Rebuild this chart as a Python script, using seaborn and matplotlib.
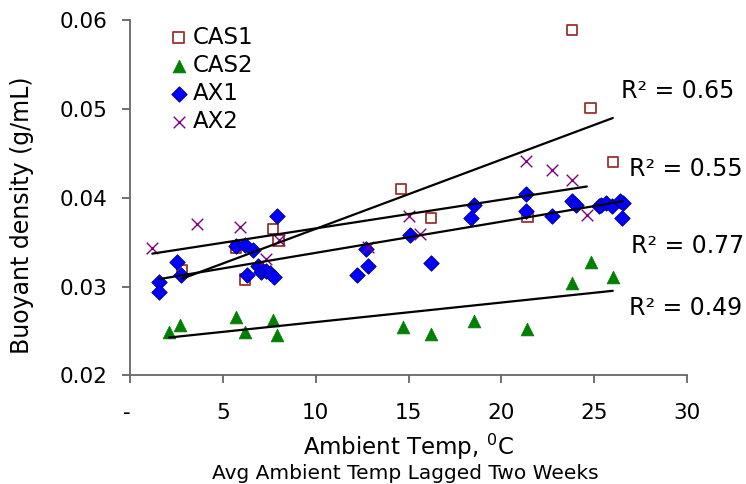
import matplotlib
matplotlib.use("Agg")
import matplotlib.pyplot as plt
import numpy as np
import pandas as pd
import seaborn as sns

# values: ambient temp (C) vs buoyant density (g/mL)
cas1_temp = [2.8, 5.7, 6.2, 7.7, 8.0, 14.6, 16.2, 21.4, 23.8, 24.8, 26.0]
cas1_dens = [0.0319, 0.0344, 0.0308, 0.0365, 0.0352, 0.0410, 0.0377, 0.0378,
             0.0589, 0.0501, 0.0440]

cas2_temp = [2.1, 2.7, 5.7, 6.2, 7.7, 7.9, 14.7, 16.2, 18.5, 21.4, 23.8, 24.8, 26.0]
cas2_dens = [0.0249, 0.0257, 0.0266, 0.0249, 0.0262, 0.0245, 0.0255, 0.0247,
             0.0261, 0.0252, 0.0304, 0.0328, 0.0311]

ax1_temp = [1.56, 1.56, 2.51, 2.73, 5.71, 6.19, 6.6, 6.28, 6.91, 7.03, 7.32,
            7.53, 7.75, 7.9, 12.2, 12.79, 12.7, 15.07, 16.2, 18.51, 18.39,
            21.35, 21.31, 22.7, 23.8, 24.04, 25.24, 25.39, 25.65, 25.96,
            26.37, 26.55, 26.52]
ax1_dens = [0.0305, 0.0294, 0.0328, 0.0313, 0.0346, 0.0347, 0.0341, 0.0313,
            0.0323, 0.0316, 0.0318, 0.0315, 0.0311, 0.0380, 0.0313, 0.0323,
            0.0342, 0.0358, 0.0327, 0.0392, 0.0377, 0.0404, 0.0385, 0.0380,
            0.0396, 0.0392, 0.0391, 0.0392, 0.0394, 0.0391, 0.0396, 0.0394,
            0.0377]

ax2_temp = [1.2, 3.6, 5.9, 7.3, 8.0, 12.8, 15.0, 15.6, 21.3, 22.7, 23.8, 24.6]
ax2_dens = [0.0344, 0.0370, 0.0367, 0.0331, 0.0352, 0.0345, 0.0380, 0.0359,
            0.0441, 0.0431, 0.0420, 0.0381]

r2_labels = ["R\u00b2 = 0.65", "R\u00b2 = 0.55", "R\u00b2 = 0.77", "R\u00b2 = 0.49"]

x_ticks = [0, 5, 10, 15, 20, 25, 30]
x_ticklabels = ["- ", "5", "10", "15", "20", "25", "30"]
y_ticks = [0.02, 0.03, 0.04, 0.05, 0.06]

sns.set_style("ticks")
plt.rcParams["font.family"] = ["DejaVu Sans"]
plt.rcParams["text.color"] = "black"
plt.rcParams["axes.labelcolor"] = "black"

fig = plt.figure(figsize=(7.46, 4.84), dpi=100)
ax = fig.add_axes([0.1743, 0.2242, 0.9210 - 0.1743, 0.9587 - 0.2242])

series = [
    ("CAS1", cas1_temp, cas1_dens, dict(marker="s", s=55, facecolor="none",
                                        edgecolor="#993333", linewidth=1.3)),
    ("CAS2", cas2_temp, cas2_dens, dict(marker="^", s=85, color="#008000",
                                        edgecolor="#008000", linewidth=0.5)),
    ("AX1", ax1_temp, ax1_dens, dict(marker="D", s=62, color="#0000ff",
                                     edgecolor="#000080", linewidth=0.6)),
    ("AX2", ax2_temp, ax2_dens, dict(marker="x", s=70, color="#800080",
                                     linewidth=1.0)),
]

for name, t, d, style in series:
    df = pd.DataFrame({"temp": t, "dens": d})
    sns.scatterplot(data=df, x="temp", y="dens", ax=ax, label=name,
                    zorder=3, **style)

# linear trend lines, over each series' own range
for name, t, d, style in series:
    df = pd.DataFrame({"temp": t, "dens": d})
    sns.regplot(data=df, x="temp", y="dens", ax=ax, scatter=False, ci=None,
                truncate=True, color="black", line_kws=dict(linewidth=1.6, zorder=4))

# R-squared labels
r2_pos = [(26.46, 0.0520), (26.86, 0.0432), (26.96, 0.03454), (26.86, 0.02762)]
for lab, (px, py) in zip(r2_labels, r2_pos):
    ax.text(px, py, lab, fontsize=17, va="center", ha="left", clip_on=False)

ax.set_xlim(0, 30)
ax.set_ylim(0.02, 0.06)
ax.set_xticks(x_ticks)
ax.set_xticklabels(x_ticklabels)
ax.set_yticks(y_ticks)
ax.set_yticklabels([f"{v:.2f}" for v in y_ticks])

sns.despine(ax=ax)
for side in ["left", "bottom"]:
    ax.spines[side].set_color("#666666")
    ax.spines[side].set_linewidth(1.3)
ax.tick_params(axis="both", direction="out", length=6, width=1.3,
               color="#666666", labelsize=15.5, labelcolor="black")
ax.tick_params(axis="y", pad=10)
ax.tick_params(axis="x", pad=14)

ax.set_xlabel("Ambient Temp, $^{0}$C", fontsize=16.5, labelpad=6)
ax.set_ylabel("Buoyant density (g/mL)", fontsize=17)
ax.yaxis.set_label_coords(-0.172, 0.451)
fig.text(0.5436, 0.021, "Avg Ambient Temp Lagged Two Weeks", fontsize=14.5,
         ha="center", va="center")

leg = ax.legend(loc="upper left", bbox_to_anchor=(0.046, 1.01), frameon=False,
                fontsize=16.5, handletextpad=0.0, labelspacing=0.22,
                borderaxespad=0.0, handlelength=1.2)

fig.savefig("out.png", dpi=100)
